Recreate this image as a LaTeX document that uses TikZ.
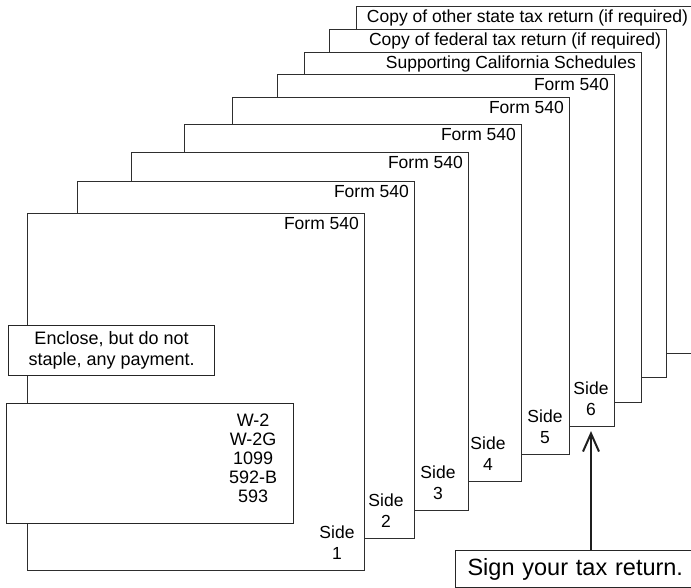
\documentclass[tikz,border=0pt]{standalone}
\usepackage{fontspec}
\setmainfont{Liberation Sans}
\usetikzlibrary{
  arrows.meta,
  calc,
  positioning
}
\tikzset{
  page/.style={
    draw=black!82,
    fill=white,
    line width=1.1pt,
    anchor=north west,
    minimum width=337pt,
    inner sep=0pt
  },
  pagelabel/.style={font=\fontsize{17.5}{20}\selectfont,inner sep=0pt,anchor=base east},
  sidelabel/.style={font=\fontsize{17.5}{21}\selectfont,align=center,inner sep=0pt,anchor=south},
  note/.style={
    draw=black!85,
    fill=white,
    line width=1.1pt,
    anchor=north west,
    align=center,
    inner sep=0pt
  },
  sign arrow/.style={-{Straight Barb[length=18pt,width=16pt]},line width=2pt,draw=black!88}
}

\begin{document}
\begin{tikzpicture}[x=1pt,y=-1pt]
  \useasboundingbox (0,0) rectangle (691,588);

  % stack of pages, back to front
  \foreach \l/\t/\b/\txt [count=\i, evaluate=\i as \n using int(10-\i)] in {
      356/6/353/{Copy of other state tax return (if required)},
      329/29/377/{Copy of federal tax return (if required)},
      304/52/402/{Supporting California Schedules},
      277/74/426/{Form 540},
      232/97/454/{Form 540},
      184/124/481/{Form 540},
      131/152/510/{Form 540},
      77/181/538/{Form 540},
      27/213/570/{Form 540}} {
    \node[page,minimum height={(\b-\t)*1pt}] (p\n) at (\l,\t) {};
    \node[pagelabel] (t\n) at ($(p\n.north east)+(-6,17)$) {\txt};
  }

  \foreach \n/\sx in {1/337,2/386,3/438,4/488,5/545,6/591} {
    \node[sidelabel] (s\n) at ($(\sx,0 |- p\n.south)+(0,-11)$) {Side\\\n};
  }

  \node[note,minimum width=206pt,minimum height=50pt,
        font=\fontsize{18}{21}\selectfont] (enclose) at (8,325)
    {Enclose, but do not\\staple, any payment.};

  \node[note,minimum width=287pt,minimum height=120pt] (forms) at (6,403) {};
  \node[font=\fontsize{18}{19}\selectfont,align=center,inner sep=0pt] (formlist)
    at ($(forms.east)+(-41,-5)$) {W-2\\W-2G\\1099\\592-B\\593};

  \node[note,minimum height=37pt,text width=240pt,align=left,inner xsep=12pt,
        font=\fontsize{23.5}{28}\selectfont] (sign) at (455,550)
    {Sign your tax return.};
  \draw[sign arrow] (sign.north -| s6) -- ($(s6 |- p6.south)+(0,4)$);
\end{tikzpicture}
\end{document}
